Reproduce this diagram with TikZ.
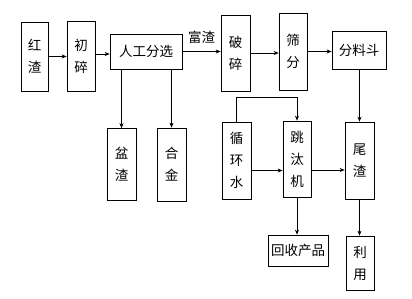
\documentclass[tikz,border=0pt]{standalone}
\usepackage{fontspec}
\usepackage{tikz}
\usetikzlibrary{arrows.meta}
\newfontfamily\cjk{Noto Sans CJK SC}

\begin{document}
\begin{tikzpicture}[x=1pt, y=-1pt, line width=0.7pt, >={Stealth[length=5pt,width=4pt]},
    box/.style={draw, inner sep=0pt, align=center, font=\cjk\fontsize{13.5}{22}\selectfont}]
    \useasboundingbox (0,0) rectangle (412,298);
    % top row
    \node[box, minimum width=27pt, minimum height=69pt] (hongzha) at (34.5,56.5) {红\\渣};
    \node[box, minimum width=28pt, minimum height=70pt] (chusui) at (81,56) {初\\碎};
    \node[box, minimum width=72pt, minimum height=35pt] (fenxuan) at (146,51.5) {人工分选};
    \node[box, minimum width=29pt, minimum height=76pt] (posui) at (235.5,53) {破\\碎};
    \node[box, minimum width=28pt, minimum height=77pt] (shaifen) at (293,51.5) {筛\\分};
    \node[box, minimum width=54pt, minimum height=38pt] (fenliao) at (359,50) {分料斗};
    % middle row
    \node[box, minimum width=29pt, minimum height=72pt] (penzha) at (121.5,164.5) {盆\\渣};
    \node[box, minimum width=29pt, minimum height=73pt] (hejin) at (171.5,164.5) {合\\金};
    \node[box, minimum width=29pt, minimum height=77pt] (xunhuan) at (236.5,160.5) {循\\环\\水};
    \node[box, minimum width=28pt, minimum height=76pt] (tiaotai) at (297,159) {跳\\汰\\机};
    \node[box, minimum width=29pt, minimum height=77pt] (weizha) at (359.5,160.5) {尾\\渣};
    % bottom row
    \node[box, minimum width=60pt, minimum height=31pt] (huishou) at (298,250.5) {回收产品};
    \node[box, minimum width=28pt, minimum height=54pt] (liyong) at (360,263) {利\\用};
    % connectors
    \draw[->] (hongzha.east) -- (hongzha.east -| chusui.west);
    \draw[->] ([yshift=2pt]chusui.east) -- ([yshift=2pt]chusui.east -| fenxuan.west);
    \draw[->] (fenxuan.east) -- (fenxuan.east -| posui.west)
        node[midway, above=4pt, font=\cjk\fontsize{13.5}{15}\selectfont] {富渣};
    \draw[->] (posui.east) -- (posui.east -| shaifen.west);
    \draw[->] (shaifen.east) -- (shaifen.east -| fenliao.west);
    \draw[->] (fenxuan.south -| penzha.north) -- (penzha.north);
    \draw[->] (fenxuan.south -| hejin.north) -- (hejin.north);
    \draw[->] (fenliao.south -| weizha.north) -- (weizha.north);
    \draw[->] (xunhuan.north) -- ++(0,-24) -| (tiaotai.north);
    \draw[->] ([yshift=-10pt]xunhuan.east) -- ([yshift=-10pt]xunhuan.east -| tiaotai.west);
    \draw[->] ([yshift=-11pt]tiaotai.east) -- ([yshift=-11pt]tiaotai.east -| weizha.west);
    \draw[->] (tiaotai.south) -- (tiaotai.south |- huishou.north);
    \draw[->] (weizha.south) -- (weizha.south |- liyong.north);
\end{tikzpicture}
\end{document}
